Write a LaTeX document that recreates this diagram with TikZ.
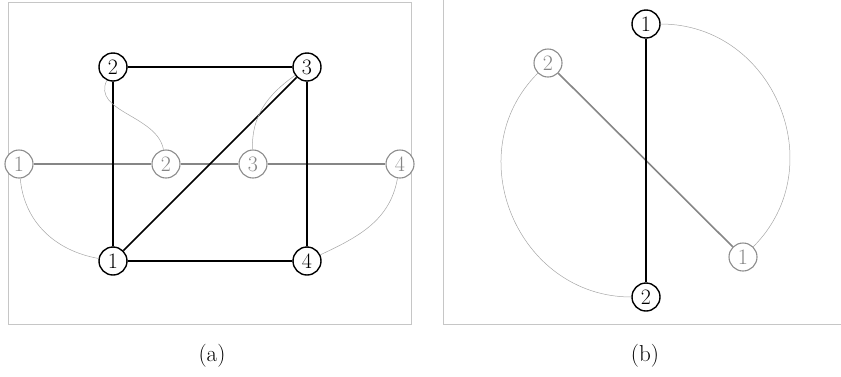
\documentclass[tikz,border=0pt]{standalone}
\usepackage{fontspec}
\setmainfont{Latin Modern Roman}
\newcommand{\bigdigits}{\fontsize{22}{26}\selectfont}
\newcommand{\capfont}{\fontsize{23}{27}\selectfont}
\begin{document}
\begin{tikzpicture}[x=1pt,y=-1pt,
  bnode/.style={circle,draw=black,line width=1.4pt,fill=white,minimum size=28pt,inner sep=0pt,font=\bigdigits},
  gnode/.style={circle,draw=gray!90,line width=1.1pt,fill=white,minimum size=28pt,inner sep=0pt,text=gray!95,font=\bigdigits},
  caption/.style={font=\capfont},
  bedge/.style={draw=black,line width=1.6pt},
  gedge/.style={draw=gray!95,line width=1.6pt},
  thin curve/.style={draw=gray!70,line width=0.5pt},
  frame/.style={draw=gray!45,line width=1pt}]
\useasboundingbox (0,0) rectangle (841,376);
% frames
\draw[frame] (8,2) rectangle (411,324);
\draw[frame] (443,-2) -- (443,324) -- (843,324);
% panel (a)
\node[gnode] (g1) at (19,164) {1};
\node[gnode] (g2) at (166,164) {2};
\node[gnode] (g3) at (253,164) {3};
\node[gnode] (g4) at (400,164) {4};
\draw[gedge] (g1) -- (g2) (g2) -- (g3) (g3) -- (g4);
\node[bnode] (b2) at (113,67) {2};
\node[bnode] (b3) at (307,67) {3};
\node[bnode] (b1) at (113,261) {1};
\node[bnode] (b4) at (307,261) {4};
\draw[bedge] (b2) -- (b3) (b2) -- (b1) (b3) -- (b4) (b1) -- (b4) (b1) -- (b3);
\draw[thin curve] (g1) to[out=-85,in=170] (b1);
\draw[thin curve] (b2) to[out=-115,in=100] (g2);
\draw[thin curve] (g3) to[out=92,in=-145] (b3);
\draw[thin curve] (g4) to[out=-100,in=25] (b4);
\node[caption] (la) at (212,356) {(a)};
% panel (b)
\node[gnode] (h2) at (548,63) {2};
\node[gnode] (h1) at (743,257) {1};
\node[bnode] (c1) at (646,24) {1};
\node[bnode] (c2) at (646,297) {2};
\draw[gedge] (h2) -- (h1);
\draw[bedge] (c1) -- (c2);
\draw[thin curve] (c1) to[out=0,in=45,looseness=1.2] (h1);
\draw[thin curve] (h2) to[out=225,in=180,looseness=1.2] (c2);
\node[caption] (lb) at (645,356) {(b)};
\end{tikzpicture}
\end{document}
